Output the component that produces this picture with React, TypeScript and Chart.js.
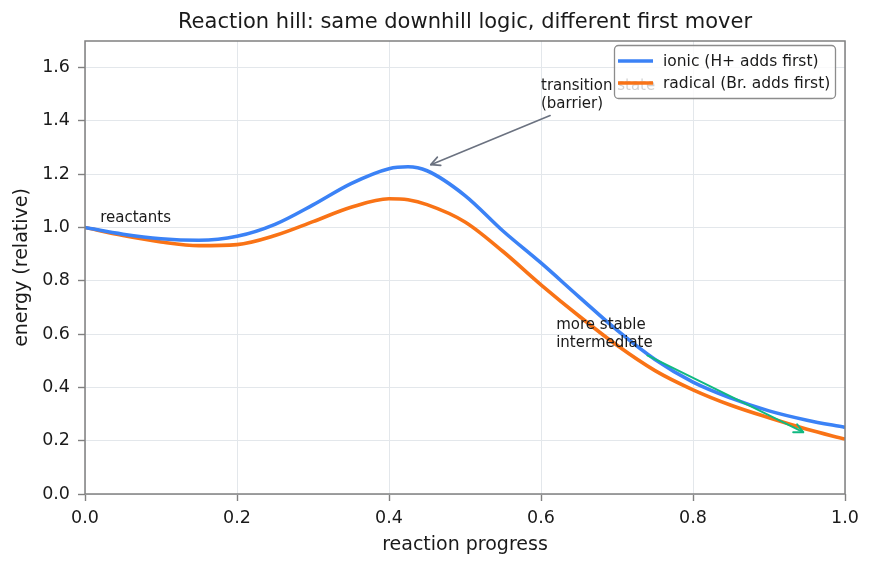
import { useEffect, useRef } from "react";
import { Chart, registerables } from "chart.js";

Chart.register(...registerables);

// Energy profile along the reaction coordinate
const progress = [0, 0.05, 0.1, 0.15, 0.2, 0.25, 0.3, 0.35, 0.4, 0.425, 0.45, 0.5, 0.55, 0.6, 0.65, 0.7, 0.75, 0.8, 0.85, 0.9, 0.95, 1.0];
const ionic = [1.0, 0.975, 0.958, 0.952, 0.967, 1.012, 1.085, 1.165, 1.221, 1.228, 1.213, 1.12, 0.987, 0.867, 0.74, 0.615, 0.505, 0.42, 0.36, 0.312, 0.277, 0.25];
const radical = [1.0, 0.97, 0.946, 0.932, 0.936, 0.97, 1.022, 1.076, 1.108, 1.104, 1.086, 1.021, 0.91, 0.785, 0.668, 0.558, 0.463, 0.391, 0.333, 0.286, 0.243, 0.206];

const seriesNames = ["ionic (H+ adds first)", "radical (Br. adds first)"];
const seriesColors = ["#3b82f6", "#f97316"];

const xTicks = [0, 0.2, 0.4, 0.6, 0.8, 1.0];
const yTicks = [0, 0.2, 0.4, 0.6, 0.8, 1.0, 1.2, 1.4, 1.6];

const chartTitle = "Reaction hill: same downhill logic, different first mover";
const xTitle = "reaction progress";
const yTitle = "energy (relative)";

// Text notes: last line sits on the given baseline (data coordinates)
const notes = [
  { lines: ["reactants"], x: 0.02, y: 1.02 },
  { lines: ["transition state", "(barrier)"], x: 0.6, y: 1.45 },
  { lines: ["more stable", "intermediate"], x: 0.62, y: 0.55 },
];

const arrows = [
  { from: [0.612, 1.42], to: [0.455, 1.236], color: "#6b7280", width: 1.6 },
  { from: [0.74, 0.52], to: [0.945, 0.232], color: "#10b981", width: 2 },
];

const FONT = "'DejaVu Sans', 'Noto Sans', sans-serif";
const INK = "#1a1a1a";
const SPINE = "#808080";

function drawArrow(ctx: CanvasRenderingContext2D, x1: number, y1: number, x2: number, y2: number, color: string, width: number) {
  const ang = Math.atan2(y2 - y1, x2 - x1);
  const head = 10;
  const spread = 0.46;
  ctx.save();
  ctx.strokeStyle = color;
  ctx.lineWidth = width;
  ctx.lineCap = "round";
  ctx.lineJoin = "round";
  ctx.beginPath();
  ctx.moveTo(x1, y1);
  ctx.lineTo(x2, y2);
  ctx.stroke();
  ctx.beginPath();
  ctx.moveTo(x2 - head * Math.cos(ang - spread), y2 - head * Math.sin(ang - spread));
  ctx.lineTo(x2, y2);
  ctx.lineTo(x2 - head * Math.cos(ang + spread), y2 - head * Math.sin(ang + spread));
  ctx.stroke();
  ctx.restore();
}

const decorPlugin = {
  id: "decor",
  afterDatasetsDraw(chart: any) {
    const { ctx, chartArea, scales } = chart;
    const { left, right, top, bottom } = chartArea;
    const xs = scales.x;
    const ys = scales.y;
    ctx.save();

    // frame
    ctx.strokeStyle = SPINE;
    ctx.lineWidth = 1.5;
    ctx.strokeRect(left, top, right - left, bottom - top);

    // notes
    ctx.font = `15px ${FONT}`;
    ctx.fillStyle = INK;
    ctx.textAlign = "left";
    ctx.textBaseline = "alphabetic";
    const lh = 18;
    for (const n of notes) {
      const px = xs.getPixelForValue(n.x);
      const py = ys.getPixelForValue(n.y);
      n.lines.forEach((ln, i) => {
        ctx.fillText(ln, px, py - (n.lines.length - 1 - i) * lh);
      });
    }

    // arrows
    for (const a of arrows) {
      drawArrow(
        ctx,
        xs.getPixelForValue(a.from[0]),
        ys.getPixelForValue(a.from[1]),
        xs.getPixelForValue(a.to[0]),
        ys.getPixelForValue(a.to[1]),
        a.color,
        a.width
      );
    }

    // legend (upper right, inside the axes)
    const bw = 221;
    const bh = 53;
    const bx = right - 10 - bw;
    const by = top + 4;
    ctx.beginPath();
    ctx.roundRect(bx + 0.5, by + 0.5, bw, bh, 4);
    ctx.fillStyle = "rgba(255,255,255,0.8)";
    ctx.fill();
    ctx.strokeStyle = "#8c8c8c";
    ctx.lineWidth = 1.3;
    ctx.stroke();
    ctx.font = `15.5px ${FONT}`;
    ctx.textBaseline = "middle";
    seriesNames.forEach((name, i) => {
      const cy = by + 16 + i * 22;
      ctx.strokeStyle = seriesColors[i];
      ctx.lineWidth = 3.5;
      ctx.beginPath();
      ctx.moveTo(bx + 4, cy);
      ctx.lineTo(bx + 39, cy);
      ctx.stroke();
      ctx.fillStyle = INK;
      ctx.fillText(name, bx + 49, cy + 1);
    });
    ctx.restore();
  },
  afterDraw(chart: any) {
    const { ctx, chartArea } = chart;
    const { left, right, top, bottom } = chartArea;
    const cx = (left + right) / 2;
    ctx.save();
    ctx.fillStyle = INK;
    ctx.textAlign = "center";
    ctx.textBaseline = "middle";
    ctx.font = `21px ${FONT}`;
    ctx.fillText(chartTitle, cx, 23);
    ctx.font = `19px ${FONT}`;
    ctx.fillText(xTitle, cx, 545);
    ctx.translate(22, (top + bottom) / 2);
    ctx.rotate(-Math.PI / 2);
    ctx.fillText(yTitle, 0, 0);
    ctx.restore();
  },
};

export default function App() {
  const ref = useRef<HTMLCanvasElement | null>(null);

  useEffect(() => {
    const canvas = ref.current;
    if (!canvas) return;
    const chart = new Chart(canvas, {
      type: "line",
      data: {
        datasets: [ionic, radical].map((vals, i) => ({
          label: seriesNames[i],
          data: progress.map((p, k) => ({ x: p, y: vals[k] })),
          borderColor: seriesColors[i],
          backgroundColor: seriesColors[i],
          borderWidth: 3.6,
          pointRadius: 0,
          fill: false,
          cubicInterpolationMode: "monotone" as const,
          borderCapStyle: "butt" as const,
          borderJoinStyle: "round" as const,
        })),
      },
      options: {
        animation: false,
        responsive: false,
        devicePixelRatio: 1,
        layout: { padding: { left: 0, right: 29, top: 41, bottom: 0 } },
        plugins: {
          legend: { display: false },
          title: { display: false },
          tooltip: { enabled: false },
        },
        scales: {
          x: {
            type: "linear",
            min: 0,
            max: 1,
            afterBuildTicks: (s: any) => {
              s.ticks = xTicks.map((v) => ({ value: v }));
            },
            afterFit: (s: any) => {
              s.height = 73;
            },
            ticks: {
              color: INK,
              font: { family: FONT, size: 17.5 },
              padding: 7,
              maxRotation: 0,
              callback: (v: any) => Number(v).toFixed(1),
            },
            grid: {
              color: "#e3e7eb",
              lineWidth: 1,
              tickColor: SPINE,
              tickLength: 7,
              tickWidth: 1.4,
            },
            border: { display: false },
          },
          y: {
            type: "linear",
            min: 0,
            max: 1.7,
            afterBuildTicks: (s: any) => {
              s.ticks = yTicks.map((v) => ({ value: v }));
            },
            afterFit: (s: any) => {
              s.width = 85;
            },
            ticks: {
              color: INK,
              font: { family: FONT, size: 17.5 },
              padding: 8,
              callback: (v: any) => Number(v).toFixed(1),
            },
            grid: {
              color: "#e3e7eb",
              lineWidth: 1,
              tickColor: SPINE,
              tickLength: 7,
              tickWidth: 1.4,
            },
            border: { display: false },
          },
        },
      },
      plugins: [decorPlugin],
    });
    return () => chart.destroy();
  }, []);

  return (
    <div style={{ position: "absolute", left: 0, top: 0, width: 874, height: 567, background: "#fff" }}>
      <canvas ref={ref} width={874} height={567} />
    </div>
  );
}
